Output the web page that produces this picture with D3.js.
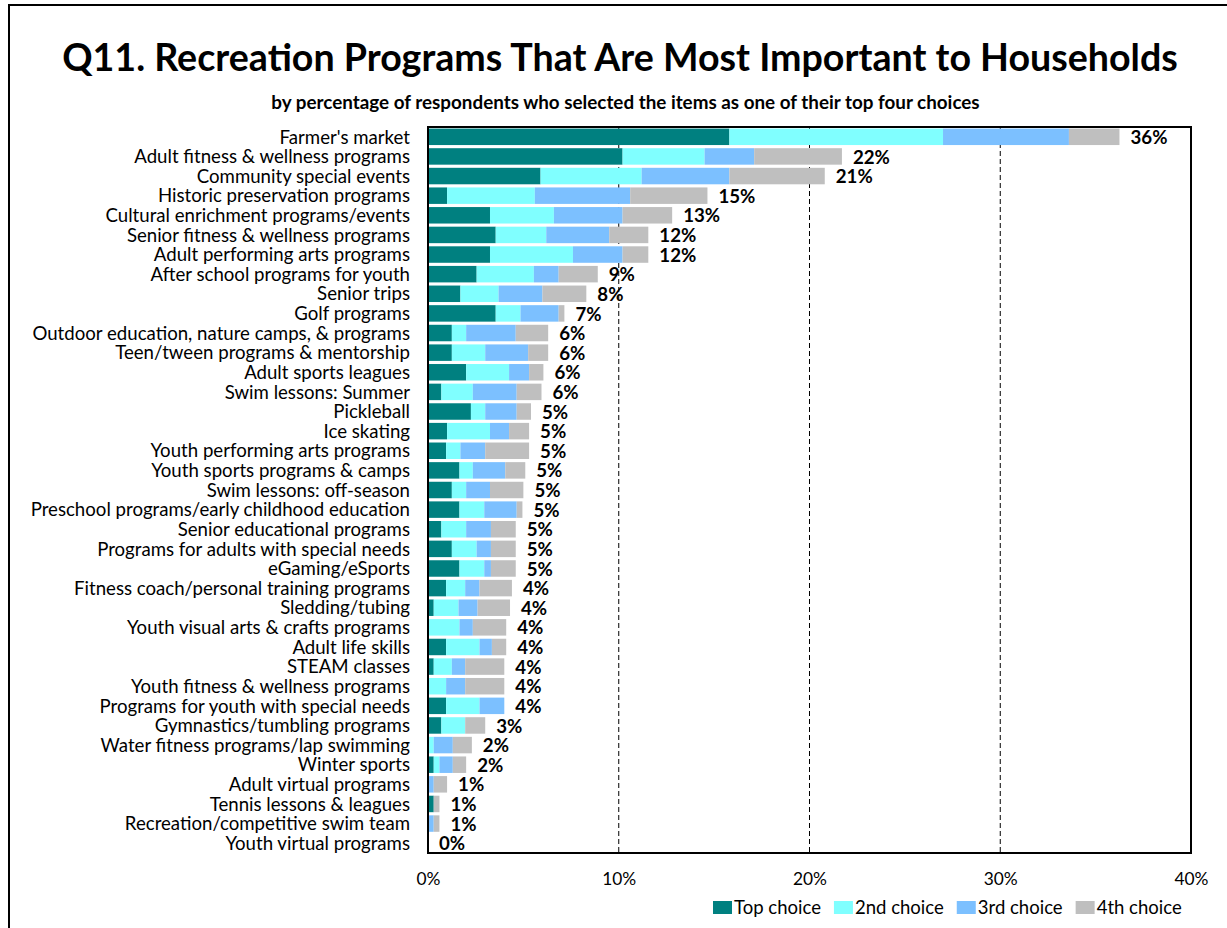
<!DOCTYPE html>
<html>
<head>
<meta charset="utf-8">
<script src="https://cdn.jsdelivr.net/npm/d3@7"></script>
<style>
  html, body { margin: 0; padding: 0; background: #fff; }
  svg { display: block; font-family: Lato, "Open Sans", sans-serif; }
</style>
</head>
<body>
<svg id="chart" width="1227" height="928"></svg>
<script>
const categories = [
  "Farmer's market",
  "Adult fitness & wellness programs",
  "Community special events",
  "Historic preservation programs",
  "Cultural enrichment programs/events",
  "Senior fitness & wellness programs",
  "Adult performing arts programs",
  "After school programs for youth",
  "Senior trips",
  "Golf programs",
  "Outdoor education, nature camps, & programs",
  "Teen/tween programs & mentorship",
  "Adult sports leagues",
  "Swim lessons: Summer",
  "Pickleball",
  "Ice skating",
  "Youth performing arts programs",
  "Youth sports programs & camps",
  "Swim lessons: off-season",
  "Preschool programs/early childhood education",
  "Senior educational programs",
  "Programs for adults with special needs",
  "eGaming/eSports",
  "Fitness coach/personal training programs",
  "Sledding/tubing",
  "Youth visual arts & crafts programs",
  "Adult life skills",
  "STEAM classes",
  "Youth fitness & wellness programs",
  "Programs for youth with special needs",
  "Gymnastics/tumbling programs",
  "Water fitness programs/lap swimming",
  "Winter sports",
  "Adult virtual programs",
  "Tennis lessons & leagues",
  "Recreation/competitive swim team",
  "Youth virtual programs"
];
const topChoice = [15.8, 10.2, 5.9, 1.0, 3.25, 3.55, 3.25, 2.55, 1.7, 3.55, 1.25, 1.25, 2.0, 0.7, 2.25, 1.0, 0.95, 1.65, 1.25, 1.65, 0.7, 1.25, 1.65, 0.95, 0.3, 0, 0.95, 0.3, 0, 0.95, 0.7, 0, 0.3, 0, 0.3, 0, 0];
const secondChoice = [11.2, 4.3, 5.3, 4.6, 3.35, 2.65, 4.35, 3.0, 2.0, 1.3, 0.75, 1.75, 2.25, 1.65, 0.75, 2.25, 0.75, 0.7, 0.75, 1.3, 1.3, 1.3, 1.3, 1.0, 1.3, 1.65, 1.75, 0.95, 0.95, 1.75, 1.25, 0.3, 0.3, 0, 0, 0, 0];
const thirdChoice = [6.6, 2.6, 4.6, 5.0, 3.6, 3.3, 2.6, 1.3, 2.3, 2.0, 2.6, 2.25, 1.05, 2.3, 1.65, 1.0, 1.3, 1.7, 1.25, 1.7, 1.3, 0.75, 0.35, 0.75, 1.0, 0.7, 0.65, 0.7, 1.0, 1.3, 0, 1.0, 0.7, 0.3, 0, 0.3, 0];
const fourthChoice = [2.65, 4.6, 5.0, 4.05, 2.6, 2.05, 1.35, 2.05, 2.3, 0.3, 1.7, 1.05, 0.75, 1.3, 0.75, 1.05, 2.3, 1.05, 1.75, 0.3, 1.3, 1.3, 1.3, 1.7, 1.7, 1.75, 0.75, 2.05, 2.05, 0, 1.05, 1.0, 0.7, 0.7, 0.3, 0.3, 0];
const seriesNames = ["Top choice", "2nd choice", "3rd choice", "4th choice"];
const seriesColors = ["#008080", "#80FFFF", "#7CC0FF", "#BFBFBF"];
const xTickValues = [0, 10, 20, 30, 40];
const titleText = "Q11. Recreation Programs That Are Most Important to Households";
const subtitleText = "by percentage of respondents who selected the items as one of their top four choices";

const svg = d3.select("#chart");
const plot = { left: 428, right: 1191, top: 127, bottom: 853 };

function fitFont(sel, target, base) {
  sel.style("font-size", base + "px");
  const w = sel.node().getComputedTextLength();
  const s = base * target / w;
  sel.style("font-size", s + "px");
  return s;
}

// outer frame
svg.append("rect").attr("x", 9).attr("y", 5).attr("width", 1400).attr("height", 1200)
  .attr("fill", "none").attr("stroke", "#000").attr("stroke-width", 2);

// title
const title = svg.append("text").attr("x", 620).attr("y", 71).attr("text-anchor", "middle")
  .attr("font-weight", "bold").attr("fill", "#000").text(titleText);
fitFont(title, 1116, 34);

const sub = svg.append("text").attr("x", 625.5).attr("y", 109).attr("text-anchor", "middle")
  .attr("font-weight", "bold").attr("fill", "#000").text(subtitleText);
fitFont(sub, 709, 15);

const table = categories.map((c, i) => ({
  category: c,
  "Top choice": topChoice[i],
  "2nd choice": secondChoice[i],
  "3rd choice": thirdChoice[i],
  "4th choice": fourthChoice[i]
}));

const x = d3.scaleLinear().domain([0, 40]).range([plot.left, plot.right]);
const y = d3.scaleBand().domain(categories).range([plot.top, plot.bottom]).paddingInner(0.16).paddingOuter(0.08);
const color = d3.scaleOrdinal().domain(seriesNames).range(seriesColors);

// gridlines
svg.append("g").selectAll("line").data(xTickValues.filter(d => d > 0 && d < 40)).join("line")
  .attr("x1", d => x(d)).attr("x2", d => x(d))
  .attr("y1", plot.top).attr("y2", plot.bottom)
  .attr("stroke", "#000").attr("stroke-width", 1).attr("stroke-dasharray", "5,3");

// bars
const stacked = d3.stack().keys(seriesNames)(table);
svg.append("g").selectAll("g").data(stacked).join("g")
  .attr("fill", d => color(d.key))
  .selectAll("rect").data(d => d).join("rect")
  .attr("x", d => x(d[0]))
  .attr("y", d => y(d.data.category))
  .attr("width", d => Math.max(0, x(d[1]) - x(d[0])))
  .attr("height", y.bandwidth());

// plot border
svg.append("rect").attr("x", plot.left).attr("y", plot.top)
  .attr("width", plot.right - plot.left).attr("height", plot.bottom - plot.top)
  .attr("fill", "none").attr("stroke", "#000").attr("stroke-width", 2);

// category labels
const catG = svg.append("g");
const probe = catG.append("text").text("Outdoor education, nature camps, & programs");
const catSize = fitFont(probe, 378, 16);
probe.remove();
catG.selectAll("text").data(categories).join("text")
  .attr("x", 410).attr("y", d => y(d) + y.bandwidth() / 2).attr("dy", "0.36em")
  .attr("text-anchor", "end").style("font-size", catSize + "px").attr("fill", "#000")
  .text(d => d);

// value labels
const totals = table.map(r => seriesNames.reduce((s, k) => s + r[k], 0));
const valG = svg.append("g");
const vprobe = valG.append("text").attr("font-weight", "bold").text("36%");
const valSize = fitFont(vprobe, 37, 20);
vprobe.remove();
valG.selectAll("text").data(table).join("text")
  .attr("x", (d, i) => x(totals[i]) + 11)
  .attr("y", d => y(d.category) + y.bandwidth() / 2).attr("dy", "0.38em")
  .attr("font-weight", "bold").style("font-size", valSize + "px").attr("fill", "#000")
  .text((d, i) => Math.round(totals[i] + 1e-9) + "%");

// x axis
const axis = d3.axisBottom(x).tickValues(xTickValues).tickFormat(d => d + "%").tickSize(0).tickPadding(20);
const axG = svg.append("g").attr("transform", `translate(0,${plot.bottom})`).call(axis);
axG.select(".domain").remove();
const tprobe = svg.append("text").text("40%");
const tickSize = fitFont(tprobe, 34, 16);
tprobe.remove();
axG.selectAll("text").style("font-size", tickSize + "px").attr("fill", "#000")
  .style("font-family", "Lato, 'Open Sans', sans-serif");

// legend
const legG = svg.append("g");
const lprobe = legG.append("text").text("Top choice");
const legSize = fitFont(lprobe, 87, 16);
lprobe.remove();
let lx = 713;
seriesNames.forEach(name => {
  legG.append("rect").attr("x", lx).attr("y", 901).attr("width", 19).attr("height", 13).attr("fill", color(name));
  const t = legG.append("text").attr("x", lx + 21).attr("y", 914).style("font-size", legSize + "px").attr("fill", "#000").text(name);
  lx += 21 + t.node().getComputedTextLength() + 13;
});
</script>
</body>
</html>
